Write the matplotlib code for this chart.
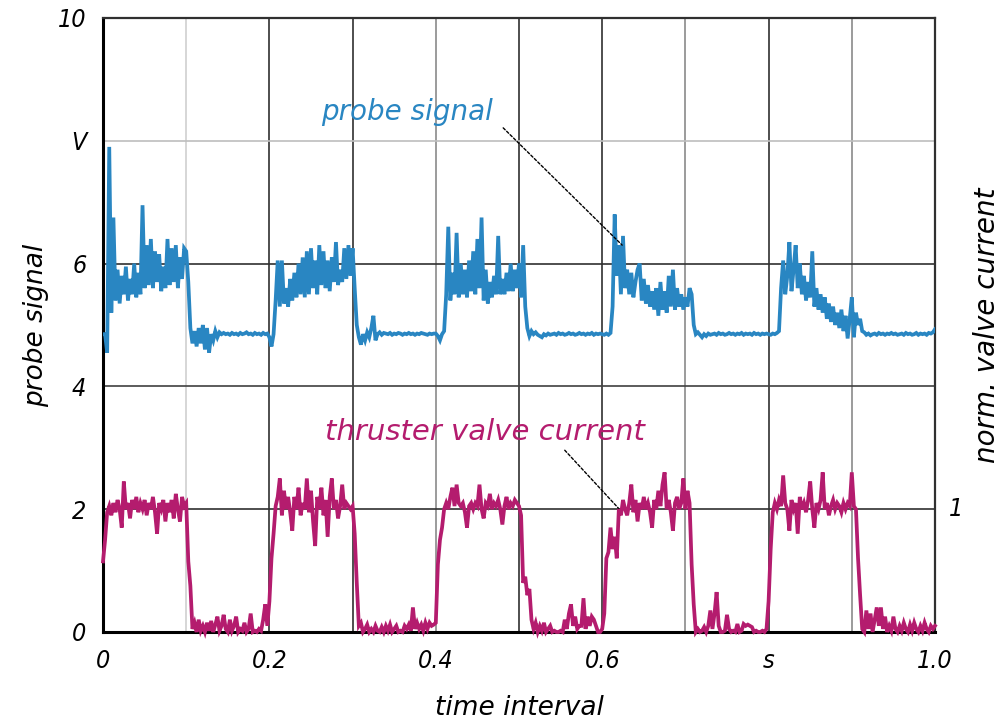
import matplotlib
matplotlib.use("Agg")

import matplotlib.pyplot as plt
import numpy as np

# ---------------------------
# Data (step 0.0025 s)
# ---------------------------
T_STEP = 0.0025

probe_signal = [
    # 0.0 - 0.1
    4.85, 4.85, 4.55, 7.9, 5.2, 6.75, 5.4, 5.9, 5.35, 5.8,
    5.5, 5.95, 5.4, 5.75, 5.5, 6.0, 5.45, 5.85, 5.5, 6.95,
    5.6, 6.3, 5.65, 6.4, 5.6, 6.2, 5.7, 6.15, 5.55, 5.95,
    5.6, 6.4, 5.65, 6.25, 5.7, 6.3, 5.6, 6.1, 5.75, 6.25,
    # 0.1 - 0.2
    6.2, 5.7, 4.95, 4.7, 4.9, 4.65, 4.95, 4.7, 5.0, 4.6,
    4.95, 4.55, 4.85, 4.75, 4.9, 4.8, 4.88, 4.85, 4.87, 4.85,
    4.86, 4.84, 4.87, 4.85, 4.86, 4.84, 4.87, 4.85, 4.86, 4.88,
    4.85, 4.86, 4.84, 4.87, 4.85, 4.86, 4.84, 4.87, 4.85, 4.86,
    # 0.2 - 0.3
    4.8, 4.65, 4.85, 5.4, 6.05, 5.3, 6.05, 5.35, 5.6, 5.3,
    5.75, 5.4, 5.85, 5.45, 6.0, 5.5, 6.1, 5.45, 6.2, 5.5,
    6.25, 5.6, 6.05, 5.5, 6.3, 5.65, 6.2, 5.6, 6.05, 5.55,
    6.1, 5.7, 6.35, 5.65, 5.9, 5.7, 6.25, 5.75, 6.3, 5.8,
    # 0.3 - 0.4
    6.25, 5.6, 5.0, 4.8, 4.68, 4.85, 4.75, 4.88, 4.8, 4.95,
    5.15, 4.75, 4.85, 4.88, 4.84, 4.87, 4.86, 4.85, 4.87, 4.84,
    4.86, 4.85, 4.87, 4.86, 4.84, 4.86, 4.85, 4.87, 4.85, 4.86,
    4.84, 4.86, 4.85, 4.87, 4.86, 4.85, 4.84, 4.86, 4.85, 4.86,
    # 0.4 - 0.5
    4.86, 4.82, 4.75, 4.85, 4.9, 5.5, 6.6, 5.4, 5.85, 5.5,
    6.5, 5.45, 6.0, 5.5, 5.9, 5.45, 6.05, 5.55, 6.2, 5.5,
    6.4, 5.6, 6.75, 5.4, 5.9, 5.35, 5.7, 5.45, 5.8, 5.5,
    6.45, 5.5, 5.75, 5.5, 5.85, 5.55, 6.0, 5.55, 5.9, 5.6,
    # 0.5 - 0.6
    6.0, 5.45, 6.3, 5.3, 4.95, 4.82, 4.9, 4.85, 4.88, 4.84,
    4.82, 4.8, 4.85, 4.83, 4.86, 4.84, 4.85, 4.86, 4.84, 4.87,
    4.85, 4.86, 4.84, 4.85, 4.87, 4.85, 4.86, 4.84, 4.85, 4.87,
    4.85, 4.86, 4.84, 4.86, 4.85, 4.87, 4.84, 4.86, 4.85, 4.86,
    # 0.6 - 0.7
    4.85, 4.84, 4.86, 4.84, 4.87, 5.3, 6.8, 5.8, 6.3, 5.5,
    6.45, 5.6, 5.9, 5.5, 5.85, 5.45, 5.7, 5.9, 6.0, 5.4,
    5.75, 5.35, 5.65, 5.3, 5.55, 5.25, 5.6, 5.15, 5.7, 5.25,
    5.55, 5.2, 5.8, 5.3, 5.9, 5.25, 5.6, 5.3, 5.5, 5.25,
    # 0.7 - 0.8
    5.45, 5.3, 5.6, 5.5, 5.0, 4.85, 4.88, 4.84, 4.8, 4.85,
    4.82, 4.86, 4.84, 4.85, 4.86, 4.84, 4.87, 4.85, 4.86, 4.84,
    4.85, 4.87, 4.85, 4.86, 4.84, 4.86, 4.85, 4.87, 4.84, 4.86,
    4.85, 4.86, 4.84, 4.87, 4.85, 4.86, 4.84, 4.86, 4.85, 4.86,
    # 0.8 - 0.9
    4.85, 4.84, 4.86, 4.85, 4.87, 4.9, 5.6, 6.05, 5.5, 5.8,
    6.35, 5.55, 5.9, 6.3, 5.6, 6.0, 5.5, 5.8, 5.4, 5.7,
    5.45, 6.2, 5.3, 5.6, 5.25, 5.5, 5.2, 5.45, 5.1, 5.35,
    5.05, 5.3, 5.0, 5.2, 4.95, 5.25, 4.9, 5.15, 4.78, 5.1,
    # 0.9 - 1.0
    5.45, 4.8, 5.2, 5.0, 5.1, 4.9, 4.88, 4.84, 4.86, 4.83,
    4.85, 4.86, 4.84, 4.87, 4.85, 4.86, 4.84, 4.86, 4.85, 4.87,
    4.85, 4.86, 4.84, 4.85, 4.86, 4.84, 4.87, 4.85, 4.86, 4.84,
    4.85, 4.87, 4.84, 4.86, 4.85, 4.86, 4.84, 4.87, 4.86, 4.88,
    4.93,
]

valve_current = [
    # 0.0 - 0.1
    1.15, 1.5, 1.95, 2.05, 1.9, 2.1, 1.95, 2.15, 2.0, 1.7,
    2.45, 2.0, 2.1, 1.85, 2.15, 2.0, 2.2, 1.95, 2.1, 2.0,
    2.15, 1.9, 2.1, 2.0, 2.2, 1.95, 1.6, 2.1, 2.0, 2.15,
    1.8, 2.1, 1.95, 2.15, 1.85, 2.25, 2.0, 1.8, 2.2, 2.05,
    # 0.1 - 0.2
    2.1, 1.15, 0.75, 0.05, 0.15, 0.0, 0.2, 0.02, 0.1, 0.0,
    0.15, 0.02, 0.18, 0.0, 0.12, 0.25, 0.02, 0.1, 0.28, 0.05,
    0.0, 0.2, 0.02, 0.1, 0.25, 0.0, 0.05, 0.02, 0.15, 0.0,
    0.05, 0.3, 0.0, 0.02, 0.0, 0.05, 0.02, 0.2, 0.45, 0.1,
    # 0.2 - 0.3
    0.5, 1.2, 1.6, 2.05, 2.2, 2.5, 1.9, 2.3, 2.0, 2.2,
    1.95, 1.65, 2.2, 2.0, 2.35, 1.9, 2.1, 2.0, 2.5, 1.95,
    2.3, 1.8, 1.4, 2.2, 2.0, 2.35, 1.9, 2.15, 1.55, 2.2,
    2.5, 2.0, 2.15, 1.85, 2.05, 2.4, 2.0, 2.1, 2.05, 2.0,
    # 0.3 - 0.4
    2.05, 1.6, 0.8, 0.1, 0.15, 0.0, 0.05, 0.12, 0.0, 0.05,
    0.0, 0.1, 0.02, 0.0, 0.08, 0.0, 0.1, 0.02, 0.12, 0.0,
    0.05, 0.1, 0.0, 0.02, 0.0, 0.1, 0.05, 0.12, 0.02, 0.4,
    0.05, 0.15, 0.05, 0.12, 0.02, 0.15, 0.05, 0.15, 0.1, 0.12,
    # 0.4 - 0.5
    0.15, 1.1, 1.5, 1.7, 2.0, 2.1, 2.0, 2.2, 2.35, 2.05,
    2.4, 2.1, 2.05, 2.1, 1.95, 1.7, 2.05, 2.1, 2.0, 2.1,
    2.05, 2.4, 2.0, 1.85, 2.1, 2.05, 2.25, 2.0, 2.1, 2.05,
    2.15, 2.0, 1.75, 2.05, 2.2, 2.0, 2.1, 2.05, 2.15, 2.1,
    # 0.5 - 0.6
    2.05, 1.9, 0.8, 0.9, 0.6, 0.7, 0.2, 0.05, 0.15, 0.0,
    0.1, 0.02, 0.15, 0.0, 0.05, 0.1, 0.0, 0.02, 0.0, 0.0,
    0.02, 0.0, 0.2, 0.05, 0.3, 0.45, 0.1, 0.25, 0.05, 0.1,
    0.1, 0.55, 0.05, 0.25, 0.1, 0.25, 0.2, 0.1, 0.0, 0.0,
    # 0.6 - 0.7
    0.05, 0.3, 1.2, 1.3, 1.7, 1.35, 1.55, 1.2, 2.0, 1.9,
    2.15, 2.0, 1.9, 2.1, 2.4, 1.95, 2.15, 1.8, 2.1, 2.0,
    2.2, 2.0, 2.1, 1.95, 1.7, 2.15, 2.0, 2.3, 2.05, 2.4,
    2.6, 2.0, 2.15, 1.95, 1.65, 2.1, 2.2, 2.0, 2.1, 2.5,
    # 0.7 - 0.8
    2.0, 2.3, 2.1, 1.1, 0.45, 0.0, 0.05, 0.0, 0.02, 0.08,
    0.0, 0.1, 0.35, 0.05, 0.3, 0.65, 0.1, 0.0, 0.0, 0.02,
    0.28, 0.05, 0.0, 0.02, 0.0, 0.13, 0.0, 0.02, 0.13, 0.1,
    0.12, 0.1, 0.08, 0.0, 0.02, 0.0, 0.0, 0.02, 0.0, 0.05,
    # 0.8 - 0.9
    0.5, 1.35, 1.95, 2.1, 2.0, 2.15, 2.05, 2.55, 2.1, 2.0,
    1.65, 2.15, 2.0, 2.1, 1.6, 2.2, 2.0, 2.1, 1.95, 2.15,
    2.45, 2.0, 1.7, 2.1, 2.0, 2.15, 2.6, 2.0, 2.1, 1.9,
    2.05, 2.15, 2.0, 2.1, 2.05, 1.95, 2.1, 2.0, 2.1, 2.05,
    # 0.9 - 1.0
    2.6, 2.05, 2.0, 1.2, 0.6, 0.05, 0.0, 0.35, 0.05, 0.3,
    0.0, 0.2, 0.4, 0.1, 0.4, 0.05, 0.25, 0.0, 0.1, 0.02,
    0.25, 0.05, 0.0, 0.1, 0.02, 0.15, 0.05, 0.0, 0.12, 0.02,
    0.15, 0.05, 0.0, 0.1, 0.02, 0.15, 0.05, 0.0, 0.1, 0.05,
    0.1,
]

x_ticks = [0, 0.2, 0.4, 0.6, 0.8, 1.0]
x_tick_labels = ["0", "0.2", "0.4", "0.6", "s", "1.0"]
y_ticks = [0, 2, 4, 6, 8, 10]
y_tick_labels = ["0", "2", "4", "6", "V", "10"]

# grid lines: (position, colour)
V_GRID = [(0.1, "#cfcfcf"), (0.2, "#303030"), (0.3, "#303030"), (0.4, "#8a8a8a"),
          (0.5, "#303030"), (0.6, "#303030"), (0.7, "#8a8a8a"), (0.8, "#303030"),
          (0.9, "#8a8a8a")]
H_GRID = [(2, "#303030"), (4, "#404040"), (6, "#303030"), (8, "#bdbdbd")]

BLUE = "#2986c2"
MAGENTA = "#b41c6e"
TICK_FONT = dict(family="DejaVu Sans", style="italic", fontstretch="condensed")
TEXT_FONT = dict(family="DejaVu Sans", style="italic")

# ---------------------------
# Plot
# ---------------------------
t_probe = np.arange(len(probe_signal)) * T_STEP
t_valve = np.arange(len(valve_current)) * T_STEP

fig = plt.figure(figsize=(10.03, 7.27), dpi=100)
ax = fig.add_axes([0.1027, 0.1307, 0.8295, 0.8446])

for xv, c in V_GRID:
    ax.axvline(xv, color=c, lw=1.2, zorder=1)
for yv, c in H_GRID:
    ax.axhline(yv, color=c, lw=1.2, zorder=1)

ax.plot(t_probe, probe_signal, color=BLUE, lw=2.7, zorder=3, solid_joinstyle="miter")
ax.plot(t_valve, valve_current, color=MAGENTA, lw=2.7, zorder=4, clip_on=False,
        solid_joinstyle="miter")

ax.set_xlim(0, 1.0)
ax.set_ylim(0, 10)
ax.set_xticks(x_ticks)
ax.set_xticklabels(x_tick_labels, **TICK_FONT, fontsize=18)
ax.set_yticks(y_ticks)
ax.set_yticklabels(y_tick_labels, **TICK_FONT, fontsize=18)
ax.tick_params(length=0, pad=12)

for side in ["left", "bottom"]:
    ax.spines[side].set_linewidth(2.2)
for side in ["top", "right"]:
    ax.spines[side].set_linewidth(1.6)
    ax.spines[side].set_color("#303030")

ax.set_xlabel("time interval", **TEXT_FONT, fontsize=19, labelpad=16)
ax.set_ylabel("probe signal", **TEXT_FONT, fontsize=19, labelpad=6)

# right-hand axis label and tick
ax.text(1.062, 5.0, "norm. valve current", transform=ax.get_yaxis_transform(),
        rotation=90, ha="center", va="center", fontsize=20, **TEXT_FONT)
ax.text(1.025, 2, "1", transform=ax.get_yaxis_transform(),
        ha="center", va="center", fontsize=18, **TICK_FONT)

# labels with dashed leader lines
ax.text(0.365, 8.47, "probe signal", color=BLUE, fontsize=20,
        ha="center", va="center", **TEXT_FONT)
ax.annotate("", xy=(0.624, 6.3), xytext=(0.481, 8.21),
            arrowprops=dict(arrowstyle="-", color="black", lw=1.0,
                            linestyle=(0, (2, 1.5)), shrinkA=0, shrinkB=0))
ax.text(0.459, 3.26, "thruster valve current", color=MAGENTA, fontsize=21,
        ha="center", va="center", **TEXT_FONT)
ax.annotate("", xy=(0.624, 1.95), xytext=(0.555, 2.96),
            arrowprops=dict(arrowstyle="-", color="black", lw=1.0,
                            linestyle=(0, (2, 1.5)), shrinkA=0, shrinkB=0))

fig.savefig("out.png", dpi=100)
